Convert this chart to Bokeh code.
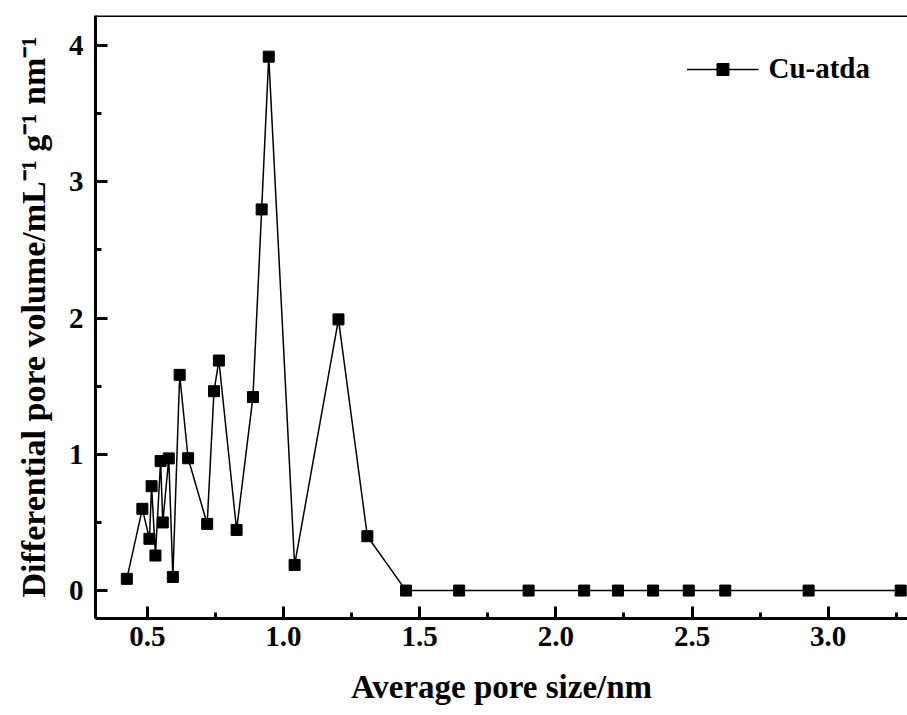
from bokeh.plotting import figure
from bokeh.models import FixedTicker, Span, Legend, LegendItem
from bokeh.embed import file_html
from bokeh.resources import INLINE

# Data
pore_size = [0.425, 0.482, 0.508, 0.516, 0.530, 0.549, 0.557, 0.579, 0.594,
             0.619, 0.650, 0.720, 0.745, 0.763, 0.828, 0.888, 0.920, 0.946,
             1.041, 1.202, 1.308, 1.450, 1.645, 1.900, 2.104, 2.228, 2.357,
             2.488, 2.622, 2.928, 3.266]
pore_volume = [0.086, 0.60, 0.38, 0.766, 0.257, 0.95, 0.50, 0.97, 0.10,
               1.583, 0.971, 0.489, 1.463, 1.688, 0.445, 1.42, 2.797, 3.918,
               0.188, 1.99, 0.399, 0.0, 0.0, 0.0, 0.0, 0.0, 0.0,
               0.0, 0.0, 0.0, 0.0]
series_name = "Cu-atda"
x_ticks = [0.5, 1.0, 1.5, 2.0, 2.5, 3.0]
x_tick_labels = ["0.5", "1.0", "1.5", "2.0", "2.5", "3.0"]
x_minor = [0.75, 1.25, 1.75, 2.25, 2.75, 3.25]
y_ticks = [0, 1, 2, 3, 4]
y_minor = [0.5, 1.5, 2.5, 3.5]

FONT = "Liberation Serif"

p = figure(width=907, height=715, output_backend="svg", toolbar_location=None,
           x_range=(0.31, 3.291), y_range=(-0.205, 4.22),
           min_border_left=95, min_border_right=0, min_border_top=15,
           min_border_bottom=97)

p.grid.visible = False
p.outline_line_color = None
p.background_fill_color = "white"
p.border_fill_color = "white"

line_r = p.line(pore_size, pore_volume, line_color="black", line_width=1.5)
mark_r = p.scatter(pore_size, pore_volume, marker="square", size=11,
                   fill_color="black", line_color="black")

# Top border of the frame
p.add_layout(Span(location=4.22, dimension="width", line_color="black",
                  line_width=3))

for ax in (p.xaxis[0], p.yaxis[0]):
    ax.axis_line_width = 3
    ax.axis_line_color = "black"
    ax.major_tick_line_color = "black"
    ax.minor_tick_line_color = "black"
    ax.major_tick_line_width = 3
    ax.minor_tick_line_width = 3
    ax.major_tick_in = 12
    ax.major_tick_out = 0
    ax.minor_tick_in = 6
    ax.minor_tick_out = 0
    ax.major_label_text_font = FONT
    ax.major_label_text_font_style = "bold"
    ax.major_label_text_font_size = "29px"
    ax.major_label_text_color = "black"
    ax.axis_label_text_font = FONT
    ax.axis_label_text_font_style = "bold"
    ax.axis_label_text_color = "black"

p.xaxis.ticker = FixedTicker(ticks=x_ticks, minor_ticks=x_minor)
p.xaxis.major_label_overrides = {t: l for t, l in zip(x_ticks, x_tick_labels)}
p.xaxis.axis_label = "Average pore size/nm"
p.xaxis.axis_label_text_font_size = "33px"
p.xaxis.major_label_standoff = 8
p.xaxis.axis_label_standoff = 20

p.yaxis.ticker = FixedTicker(ticks=y_ticks, minor_ticks=y_minor)
p.yaxis.axis_label = "Differential pore volume/mL\u207b\u00b9 g\u207b\u00b9 nm\u207b\u00b9"
p.yaxis.axis_label_text_font_size = "34px"
p.yaxis.major_label_standoff = 12
p.yaxis.axis_label_standoff = 14

legend = Legend(items=[LegendItem(label=series_name, renderers=[line_r, mark_r])],
                location="top_right")
legend.border_line_color = None
legend.background_fill_alpha = 0
legend.label_text_font = FONT
legend.label_text_font_style = "bold"
legend.label_text_font_size = "29px"
legend.label_text_color = "black"
legend.glyph_width = 72
legend.glyph_height = 30
legend.label_standoff = 10
legend.margin = 37
legend.padding = 8
p.add_layout(legend)

open("out.html", "w").write(file_html(p, INLINE))
